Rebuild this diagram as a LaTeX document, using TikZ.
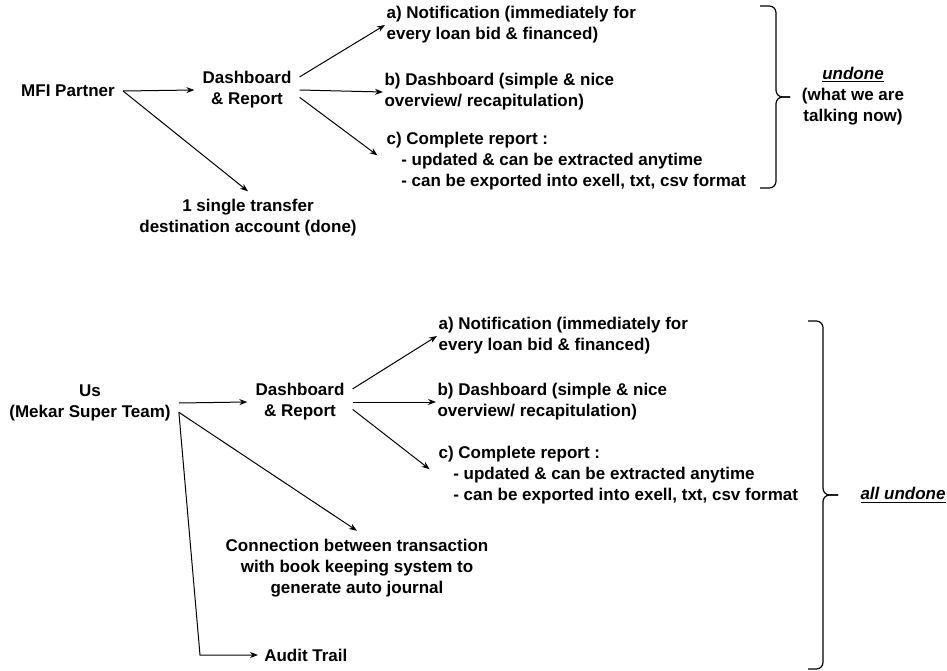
\documentclass[tikz,border=0pt]{standalone}
\usepackage{fontspec}
\setmainfont{Liberation Sans}
\usetikzlibrary{arrows.meta}
\begin{document}
\begin{tikzpicture}[x=0.75pt, y=-0.75pt,
  every node/.style={font=\fontsize{12.75}{15.75}\selectfont\bfseries},
  hub/.style={align=center, inner sep=6pt},
  item/.style={align=left, anchor=west, inner sep=1pt},
  arr/.style={-{Stealth[length=6pt,width=4.5pt]}, line width=0.75pt},
  curly/.style={line width=0.9pt, rounded corners=5pt}]
  \useasboundingbox (0,0) rectangle (947,671);
  \node[hub] (mfi) at (68,91) {MFI Partner};
  \node[hub] (dashA) at (247,90) {Dashboard\\\& Report};
  \node[item] (notifA) at (385,25) {a) Notification (immediately for\\every loan bid \& financed)};
  \node[item] (boardA) at (383,92) {b) Dashboard (simple \& nice\\overview/ recapitulation)};
  \node[item] (reportA) at (385,161) {c) Complete report :\\\hspace*{11pt}- updated \& can be extracted anytime\\\hspace*{11pt}- can be exported into exell, txt, csv format};
  \node[hub] (transfer) at (248,218) {1 single transfer\\destination account (done)};
  \node[align=center] (undoneA) at (853,96) {\underline{\textit{undone}}\\(what we are\\talking now)};
  \draw[arr] (mfi.east) -- (dashA.west);
  \draw[arr] (mfi.east) -- (transfer.north);
  \draw[arr] (dashA.14) -- (notifA.west);
  \draw[arr] (dashA.0) -- (boardA.west);
  \draw[arr, shorten >=7pt] (dashA.-8) -- (reportA.west);
  \draw[curly] (760,6) -- (776,6) -- (776,97) -- (790,97);
  \draw[curly] (760,188) -- (776,188) -- (776,97) -- (790,97);

  \node[hub] (us) at (90,403) {Us\\(Mekar Super Team)};
  \node[hub] (dashB) at (300,402) {Dashboard\\\& Report};
  \node[item] (notifB) at (437,336) {a) Notification (immediately for\\every loan bid \& financed)};
  \node[item] (boardB) at (436,402) {b) Dashboard (simple \& nice\\overview/ recapitulation)};
  \node[item] (reportB) at (437,475) {c) Complete report :\\\hspace*{11pt}- updated \& can be extracted anytime\\\hspace*{11pt}- can be exported into exell, txt, csv format};
  \node[hub] (journal) at (357,568) {Connection between transaction\\with book keeping system to\\generate auto journal};
  \node[item, inner sep=4.5pt] (audit) at (258,655) {Audit Trail};
  \node[align=center] (undoneB) at (903,495) {\underline{\textit{all undone}}};
  \coordinate (auditbend) at (200,0);
  \draw[arr] (us.east) -- (dashB.west);
  \draw[arr] (us.-6) -- (journal.north);
  \draw[arr] (us.-6) -- (auditbend |- audit.west) -- (audit.west);
  \draw[arr] (dashB.14) -- (notifB.west);
  \draw[arr] (dashB.0) -- (boardB.west);
  \draw[arr, shorten >=7pt] (dashB.-8) -- (reportB.west);
  \draw[curly] (808,321) -- (823,321) -- (823,495) -- (838,495);
  \draw[curly] (808,669) -- (823,669) -- (823,495) -- (838,495);
\end{tikzpicture}
\end{document}
